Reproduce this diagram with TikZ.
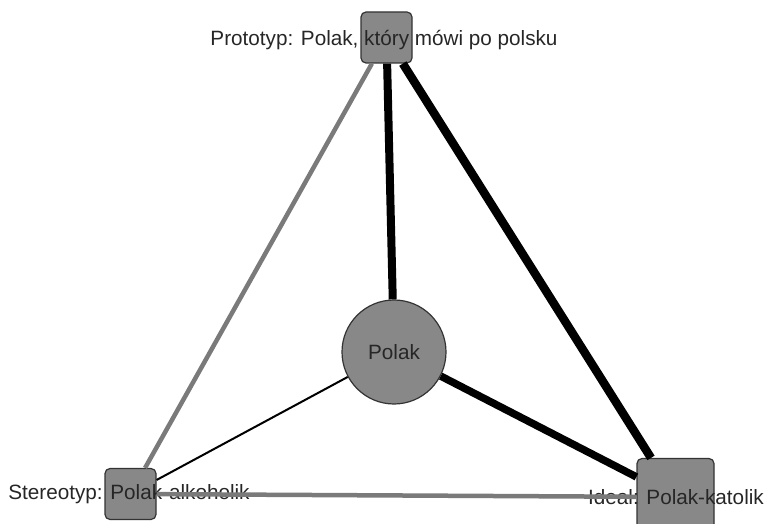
\documentclass[tikz,border=0pt]{standalone}
\usepackage{fontspec}
\setmainfont{Liberation Sans}
\begin{document}
\begin{tikzpicture}[x=1pt,y=-1pt,
  vert/.style={draw=black!80,line width=1.2pt,fill=nodegray,rounded corners=5pt,inner sep=0pt},
  sq/.style={vert,rectangle,minimum size=#1},
  circ/.style={vert,circle,minimum size=#1},
  lbl/.style={font=\fontsize{20.7}{24}\selectfont,text=black!85,inner sep=0pt},
  tie/.style={line width=#1},
  grey tie/.style={line width=#1,draw=edgegray}]
\definecolor{nodegray}{HTML}{888888}
\definecolor{edgegray}{HTML}{7A7A7A}
\useasboundingbox (0,0) rectangle (769,524);
% vertices
\node[sq=51pt] (proto) at (386.5,37.5) {};
\node[circ=104pt] (polak) at (394,352) {};
\node[sq=51pt] (stereo) at (130.5,494) {};
\node[sq=77pt] (ideal) at (675.5,497) {};
% vertex captions
\node[lbl] (protoL) at (384,40) {Prototyp: Polak, który mówi po polsku};
\node[lbl] (polakL) at (394,352) {Polak};
\node[lbl] (stereoL) at (129,494) {Stereotyp: Polak-alkoholik};
\node[lbl] (idealL) at (676,497) {Ideał: Polak-katolik};
% ties
\draw[tie=8pt] (proto) -- (polak);
\draw[tie=8.5pt] (proto) -- (ideal);
\draw[grey tie=4.5pt] (proto) -- (stereo);
\draw[tie=7.5pt] (polak) -- (ideal);
\draw[tie=2pt] (polak) -- (stereo);
\draw[grey tie=4.5pt] (stereo) -- (ideal);
\end{tikzpicture}
\end{document}
